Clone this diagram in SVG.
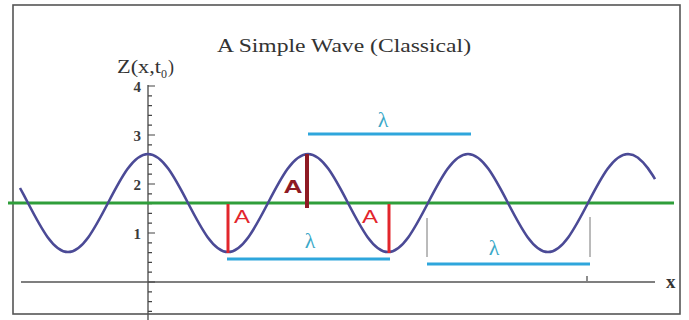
<svg xmlns="http://www.w3.org/2000/svg" width="689" height="320" viewBox="0 0 689 320">
<style>
.frame{fill:#ffffff;stroke:#555555;stroke-width:1.6}
.axis{fill:none;stroke:#555555;stroke-width:1.4}
.tick{fill:none;stroke:#444444;stroke-width:1.2}
.wave{fill:none;stroke:#4b4a96;stroke-width:2.6}
.mean{stroke:#2f9e3a;stroke-width:2.8}
.amp{stroke:#e2262c;stroke-width:3}
.ampd{stroke:#8e1a24;stroke-width:4}
.lam{stroke:#2ea6dc;stroke-width:3.2}
.guide{stroke:#777777;stroke-width:1}
.serif{font-family:"Liberation Serif","Times New Roman",serif;fill:#333333}
.num{font-family:"Liberation Serif","Times New Roman",serif;font-weight:bold;font-size:15px;fill:#3a3a3a;text-anchor:end}
.alab{font-family:"Liberation Sans",Arial,sans-serif;fill:#e2262c;text-anchor:middle;font-size:18px}
.llab{font-family:"Liberation Serif","Times New Roman",serif;fill:#3aa8c8;text-anchor:middle;font-size:22px}
</style>
<rect x="0" y="0" width="689" height="320" fill="#ffffff"/>
<rect class="frame" x="13" y="5" width="667" height="309"/>
<g id="title">
<text class="serif" x="217" y="52" font-size="19" textLength="254" lengthAdjust="spacingAndGlyphs">A Simple Wave (Classical)</text>
</g>
<g id="axes">
<line class="axis" x1="148" y1="85" x2="148" y2="320"/>
<line class="axis" x1="21" y1="282" x2="655" y2="282"/>
<path class="tick" d="M148,86h7M148,135h7M148,184h7M148,233h7M148,282h7M148,95.8h4M148,105.6h4M148,115.4h4M148,125.2h4M148,144.8h4M148,154.6h4M148,164.4h4M148,174.2h4M148,193.8h4M148,203.6h4M148,213.4h4M148,223.2h4M148,242.8h4M148,252.6h4M148,262.4h4M148,272.2h4M148,291.8h4M148,301.6h4M148,311.4h4M587,276v5"/>
<text class="serif" x="117" y="73" font-size="18" textLength="44" lengthAdjust="spacingAndGlyphs">Z(x,t</text>
<text class="serif" x="161" y="78" font-size="12">0</text>
<text class="serif" x="168" y="73" font-size="18">)</text>
<text class="num" x="141" y="92">4</text>
<text class="num" x="141" y="141">3</text>
<text class="num" x="141" y="190">2</text>
<text class="num" x="141" y="239">1</text>
<text class="serif" x="666" y="288" font-size="19" font-weight="bold" fill="#444444">x</text>
</g>
<g id="mean-line">
<line class="mean" x1="8" y1="203" x2="674" y2="203"/>
</g>
<g id="wave">
<path class="wave" d="M20,188 L24,195.3 L28,203 C41.05,228.1 53.52,252 68,252 S94.95,228.1 108,203 S133.52,154 148,154 S174.95,177.9 188,203 S213.52,252 228,252 S254.95,228.1 268,203 S293.52,154 308,154 S334.95,177.9 348,203 S373.52,252 388,252 S414.95,228.1 428,203 S453.52,154 468,154 S494.95,177.9 508,203 S533.52,252 548,252 S574.95,228.1 588,203 S613.52,154 628,154 L633,154.9 L638,157.7 L643,162.3 L648,168.4 L653,175.8 L655,179.1"/>
</g>
<g id="amplitudes">
<line class="amp" x1="228" y1="204" x2="228" y2="253"/>
<line class="amp" x1="389" y1="204" x2="389" y2="253"/>
<line class="ampd" x1="307" y1="154" x2="307" y2="208"/>
<text class="alab" x="242" y="223" textLength="16" lengthAdjust="spacingAndGlyphs">A</text>
<text class="alab" x="370" y="223" textLength="16" lengthAdjust="spacingAndGlyphs">A</text>
<text class="alab" x="293" y="193" font-size="23" font-weight="bold" style="fill:#8e1a24" textLength="19" lengthAdjust="spacingAndGlyphs">A</text>
</g>
<g id="wavelengths">
<line class="lam" x1="308" y1="134" x2="471" y2="134"/>
<line class="lam" x1="227" y1="259" x2="390" y2="259"/>
<line class="lam" x1="427" y1="264" x2="590" y2="264"/>
<line class="guide" x1="427" y1="218" x2="427" y2="257"/>
<line class="guide" x1="590" y1="217" x2="590" y2="257"/>
<text class="llab" x="383" y="127">λ</text>
<text class="llab" x="310" y="248">λ</text>
<text class="llab" x="494" y="255">λ</text>
</g>
</svg>
